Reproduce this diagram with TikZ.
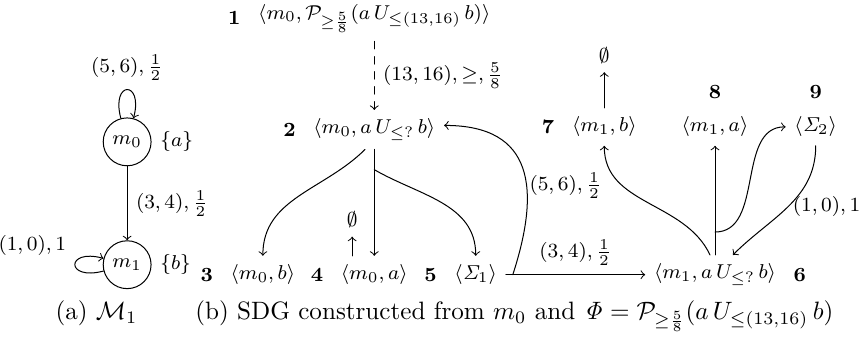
\documentclass[tikz,border=0pt]{standalone}
\usepackage{amsmath,amssymb}
\usepackage{tikz}
\usetikzlibrary{calc,positioning}
\tikzset{
  mstate/.style={circle, draw, minimum size=6.7mm, inner sep=0pt},
  numlbl/.style={font=\footnotesize\bfseries},
  subcap/.style={font=\normalsize, anchor=base},
}

\begin{document}
\begin{tikzpicture}[font=\footnotesize, line cap=round, line join=round]
  \useasboundingbox (0,0) rectangle (12.04,4.746);

  % Panel (a): the two states of the model, each with its set of labels.
  \node[mstate, label={right:$\{a\}$}] (m0) at (1.78,2.76) {$m_0$};
  \node[mstate, label={right:$\{b\}$}] (m1) at (1.78,1.04) {$m_1$};

  \draw[->] (m0) to[loop above] node[above] {$(5,6),\frac{1}{2}$} (m0);
  \draw[->] (m0) -- node[right] {$(3,4),\frac{1}{2}$} (m1);
  \draw[->] (m1) to[loop left] node[above left] {$(1,0),1$} (m1);

  \node[subcap] (capa) at (1.35,0.27) {(a) $\mathcal{M}_1$};

  % Panel (b): the graph nodes; their numbers sit beside them as labels.
  \node[label={[numlbl]left:1}] (n1) at (5.24,4.49)
    {$\langle m_0,\mathcal{P}_{\geq\frac{5}{8}}(a\,U_{\leq(13,16)}\,b)\rangle$};
  \node[label={[numlbl]left:2}] (n2) at (5.24,2.93)
    {$\langle m_0,a\,U_{\leq ?}\,b\rangle$};
  \node[label={[numlbl]left:3}] (n3) at (3.68,0.90) {$\langle m_0,b\rangle$};
  \node[label={[numlbl]left:4}] (n4) at (5.24,0.90) {$\langle m_0,a\rangle$};
  \node[label={[numlbl]left:5}] (n5) at (6.66,0.90)
    {$\langle\mathit{\Sigma}_1\rangle$};
  \node[label={[numlbl]right:6}] (n6) at (10.01,0.90)
    {$\langle m_1,a\,U_{\leq ?}\,b\rangle$};
  \node[label={[numlbl]left:7}] (n7) at (8.46,2.97) {$\langle m_1,b\rangle$};
  \node[label={[numlbl]above:8}] (n8) at (10.01,2.97) {$\langle m_1,a\rangle$};
  \node[label={[numlbl]above:9}] (n9) at (11.42,2.97)
    {$\langle\mathit{\Sigma}_2\rangle$};

  \node[above=5mm of n7] (e7) {$\emptyset$};
  \node (e4) at (4.93,1.67) {$\emptyset$};

  \draw[->, dashed] (n1) -- node[right] {$(13,16),\geq,\frac{5}{8}$} (n2);

  % Branch points on the straight connectors.
  \coordinate (b2) at ($(n2.south)!0.19!(n4.north)$);
  \coordinate (b5) at ($(n5.east)!0.05!(n6.west)$);
  \coordinate (b6) at ($(n6.north)!0.21!(n8.south)$);

  \draw[->] ([xshift=-1.3mm]n2.south) to[out=-135,in=90] (n3);
  \draw[->] (n2) -- (n4);
  \draw[->] (b2) to[out=-30,in=90] (n5);
  \draw[->] (e4 |- n4.north) -- (e4);

  \draw[->] (n5) -- node[above] {$(3,4),\frac{1}{2}$} (n6);
  \draw[->] (b5) to[out=72,in=0,looseness=1.4]
    node[right,pos=0.4,inner sep=1pt] {$(5,6),\frac{1}{2}$}
    ([yshift=0.6mm]n2.east);

  \draw[->] ([xshift=-0.7mm]n6.north) to[out=115,in=-90] (n7);
  \draw[->] (n6) -- (n8);
  \draw[->] (b6) to[out=0,in=180] (n9);
  \draw[->] (n9) to[out=-90,in=45] node[right,inner sep=1.5pt] {$(1,0),1$}
    ([xshift=2.5mm]n6.north);
  \draw[->] (n7) -- (e7);

  \node[subcap] (capb) at (7.20,0.27) {(b) SDG constructed from $m_0$ and
    $\mathit{\Phi}=\mathcal{P}_{\geq\frac{5}{8}}(a\,U_{\leq(13,16)}\,b)$};
\end{tikzpicture}
\end{document}
